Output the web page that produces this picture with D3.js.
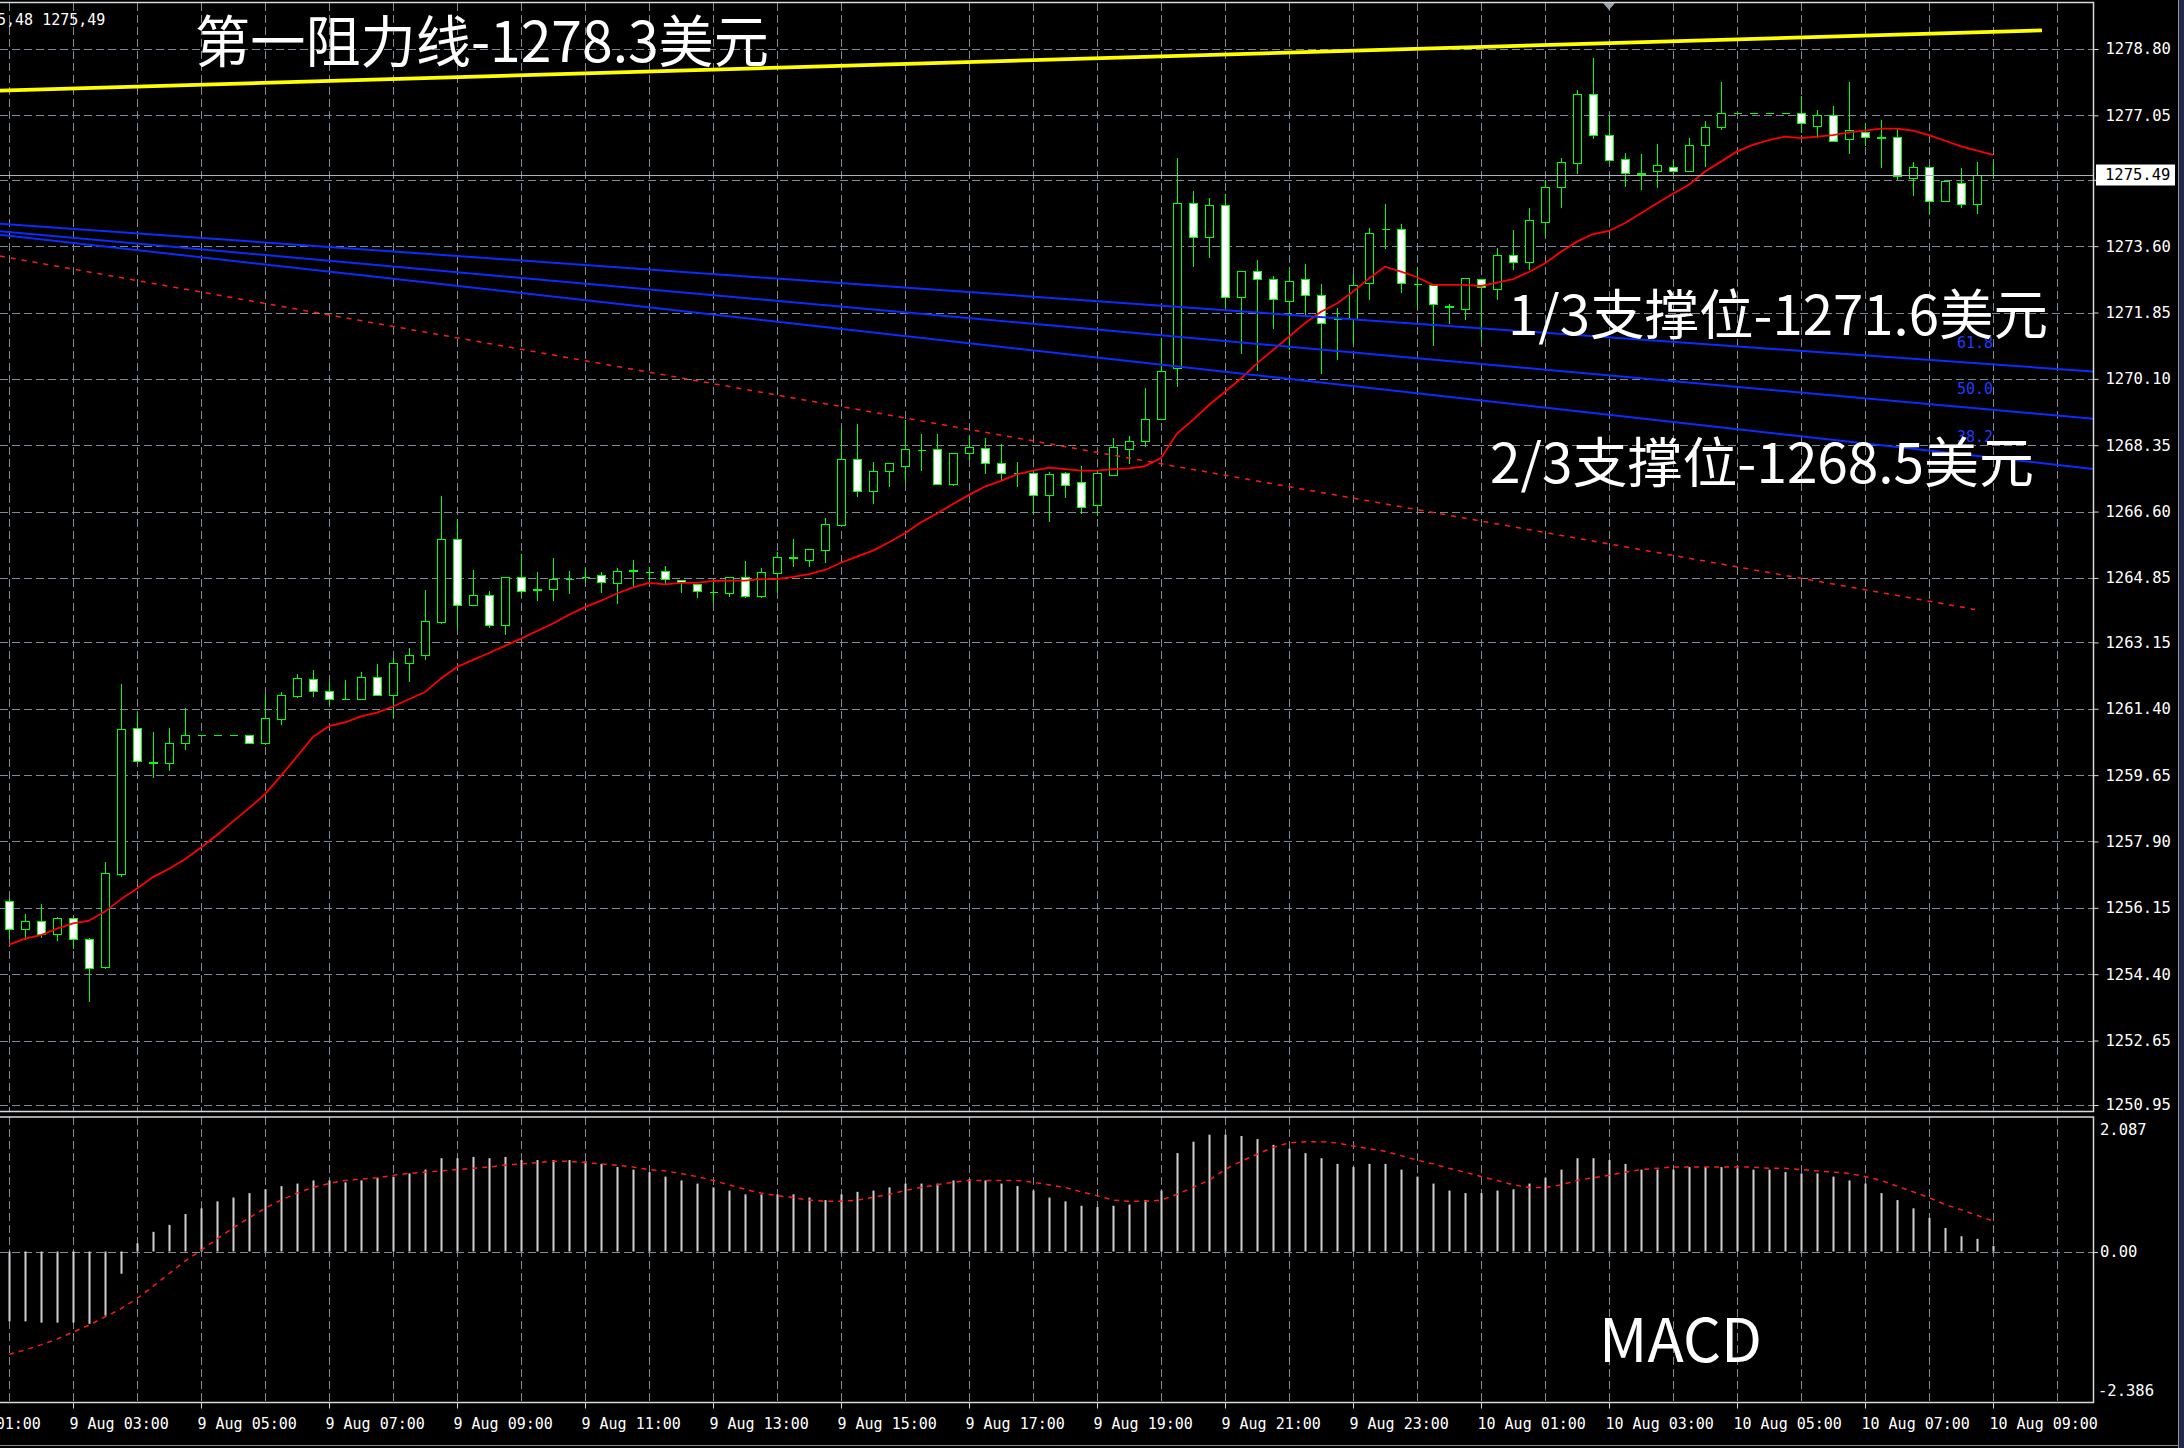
<!DOCTYPE html>
<html><head><meta charset="utf-8">
<script src="https://cdn.jsdelivr.net/npm/d3@7"></script>
<style>html,body{margin:0;padding:0;background:#000;overflow:hidden}</style>
</head><body>
<svg id="c" width="2184" height="1448"></svg>
<script>
// ---------------- DATA ----------------
const firstCandle = "2018-08-09 02:00"; // M15 bars
const opens = [1256.33,1255.59,1255.81,1255.47,1255.87,1255.34,1254.59,1257.03,1260.88,1260.00,1259.96,1260.50,1260.71,1260.71,1260.71,1260.70,1260.49,1261.13,1261.74,1262.19,1261.87,1261.67,1261.67,1262.24,1261.76,1262.61,1262.82,1263.70,1265.89,1264.14,1264.40,1263.61,1264.88,1264.52,1264.55,1264.82,1264.88,1264.93,1264.71,1265.04,1265.02,1265.03,1264.80,1264.68,1264.49,1264.44,1264.88,1264.37,1264.97,1265.38,1265.32,1265.60,1266.24,1267.99,1267.14,1267.67,1267.81,1268.22,1268.25,1267.34,1268.14,1268.29,1267.89,1267.61,1267.63,1267.04,1267.63,1267.37,1266.77,1267.57,1268.24,1268.46,1269.03,1270.38,1274.75,1273.85,1274.69,1272.27,1272.95,1272.73,1272.15,1272.73,1272.31,1271.67,1271.67,1272.64,1274.04,1274.05,1272.60,1272.58,1272.00,1271.94,1272.73,1272.47,1273.37,1273.17,1274.25,1275.17,1275.79,1277.61,1276.53,1275.90,1275.51,1275.59,1275.70,1275.59,1276.27,1276.74,1277.12,1277.12,1277.12,1277.12,1277.12,1276.78,1277.06,1276.43,1276.62,1276.46,1276.49,1275.39,1275.70,1274.79,1275.26,1274.71,1275.48];
const highs = [1256.39,1255.98,1256.24,1255.92,1255.91,1255.36,1257.35,1262.05,1261.29,1260.78,1260.90,1261.41,1260.71,1260.71,1260.71,1260.70,1261.79,1261.84,1262.31,1262.41,1262.10,1262.17,1262.37,1262.57,1262.73,1263.01,1264.52,1267.02,1266.41,1265.06,1264.51,1264.88,1265.48,1265.00,1265.37,1265.04,1265.10,1265.00,1265.10,1265.32,1265.15,1265.16,1264.80,1264.68,1264.75,1264.88,1265.31,1265.10,1265.53,1265.89,1265.62,1266.42,1268.80,1268.90,1267.90,1267.89,1269.02,1268.64,1268.64,1268.15,1268.60,1268.53,1268.37,1267.91,1267.70,1267.65,1267.65,1267.79,1267.66,1268.53,1268.59,1269.85,1271.17,1275.92,1275.06,1274.86,1274.97,1272.95,1273.24,1272.81,1273.06,1273.13,1272.60,1271.96,1272.86,1274.07,1274.71,1274.18,1273.06,1272.58,1272.07,1272.75,1272.73,1273.54,1274.03,1274.60,1275.35,1275.92,1277.72,1278.56,1277.02,1276.07,1276.02,1276.29,1275.88,1276.45,1276.89,1277.92,1277.12,1277.12,1277.12,1277.12,1277.56,1277.19,1277.30,1277.94,1276.84,1276.93,1276.68,1275.81,1275.70,1275.32,1275.66,1275.81,1275.83];
const lows = [1255.36,1255.34,1255.39,1255.31,1255.10,1253.69,1254.57,1256.99,1260.00,1259.60,1259.79,1260.33,1260.71,1260.71,1260.71,1260.50,1260.47,1261.01,1261.70,1261.74,1261.53,1261.67,1261.65,1261.77,1261.18,1262.12,1262.71,1263.65,1263.53,1264.14,1263.56,1263.37,1264.37,1264.27,1264.27,1264.44,1264.71,1264.49,1264.18,1264.65,1264.75,1264.71,1264.49,1264.34,1264.22,1264.38,1264.34,1264.34,1264.48,1265.17,1265.17,1265.27,1266.24,1267.02,1266.82,1267.28,1267.39,1267.71,1267.34,1267.29,1268.00,1267.61,1267.43,1267.28,1266.56,1266.34,1266.98,1266.55,1266.51,1267.57,1267.89,1268.33,1269.03,1269.92,1273.09,1273.31,1272.00,1270.77,1270.33,1271.45,1270.89,1271.79,1270.25,1270.62,1271.04,1272.20,1273.54,1272.40,1272.00,1271.00,1271.57,1271.67,1271.13,1272.20,1272.99,1273.00,1273.90,1274.62,1275.52,1276.46,1275.86,1275.20,1275.10,1275.15,1275.52,1275.59,1275.72,1276.68,1277.12,1277.12,1277.12,1277.12,1276.62,1276.49,1276.38,1276.05,1276.27,1275.68,1275.37,1274.96,1274.47,1274.79,1274.63,1274.47,1275.42];
const closes = [1255.60,1255.81,1255.45,1255.87,1255.34,1254.55,1257.07,1260.87,1260.02,1259.97,1260.50,1260.71,1260.71,1260.71,1260.71,1260.50,1261.15,1261.77,1262.21,1261.86,1261.67,1261.67,1262.24,1261.77,1262.61,1262.82,1263.71,1265.89,1264.14,1264.40,1263.61,1264.88,1264.51,1264.55,1264.82,1264.83,1264.88,1264.73,1265.04,1265.05,1265.02,1264.82,1264.74,1264.51,1264.49,1264.88,1264.38,1265.00,1265.41,1265.39,1265.62,1266.26,1268.00,1267.14,1267.68,1267.89,1268.25,1268.23,1267.34,1268.15,1268.31,1267.87,1267.61,1267.62,1267.04,1267.58,1267.30,1266.73,1267.63,1268.31,1268.46,1269.03,1270.32,1274.75,1273.85,1274.69,1272.27,1272.95,1272.73,1272.21,1272.69,1272.31,1271.58,1271.68,1272.58,1273.94,1274.05,1272.64,1272.61,1272.07,1272.01,1272.75,1272.53,1273.37,1273.17,1274.28,1275.17,1275.81,1277.61,1276.52,1275.86,1275.52,1275.52,1275.74,1275.59,1276.27,1276.75,1277.12,1277.12,1277.12,1277.12,1277.12,1276.86,1277.06,1276.38,1276.67,1276.49,1276.47,1275.44,1275.70,1274.79,1275.32,1274.71,1275.48,1275.49];
const maValues = [1255.18,1255.34,1255.43,1255.60,1255.74,1255.81,1256.05,1256.38,1256.66,1256.96,1257.18,1257.43,1257.74,1258.07,1258.43,1258.78,1259.15,1259.63,1260.14,1260.66,1260.94,1261.04,1261.20,1261.30,1261.46,1261.65,1261.84,1262.20,1262.50,1262.69,1262.87,1263.06,1263.25,1263.45,1263.65,1263.88,1264.08,1264.25,1264.44,1264.60,1264.72,1264.68,1264.72,1264.72,1264.77,1264.78,1264.78,1264.82,1264.82,1264.88,1264.95,1265.06,1265.25,1265.41,1265.57,1265.79,1266.03,1266.32,1266.55,1266.80,1267.04,1267.26,1267.41,1267.58,1267.68,1267.76,1267.72,1267.68,1267.68,1267.72,1267.74,1267.80,1268.01,1268.66,1269.02,1269.41,1269.76,1270.11,1270.51,1270.86,1271.21,1271.57,1271.87,1272.09,1272.40,1272.75,1273.06,1272.93,1272.78,1272.58,1272.58,1272.58,1272.55,1272.64,1272.73,1272.92,1273.15,1273.45,1273.72,1273.92,1274.00,1274.21,1274.47,1274.73,1274.98,1275.22,1275.57,1275.83,1276.10,1276.27,1276.40,1276.49,1276.45,1276.49,1276.53,1276.60,1276.65,1276.70,1276.70,1276.65,1276.53,1276.38,1276.23,1276.12,1276.01];
const macdHist = [-1.10,-1.10,-1.12,-1.12,-1.12,-1.14,-1.01,-0.35,0.13,0.31,0.42,0.59,0.68,0.79,0.85,0.92,0.98,1.03,1.07,1.12,1.12,1.09,1.12,1.16,1.18,1.23,1.29,1.47,1.47,1.49,1.47,1.49,1.44,1.44,1.44,1.44,1.42,1.38,1.33,1.29,1.25,1.18,1.12,1.07,1.01,0.96,0.90,0.90,0.90,0.90,0.85,0.81,0.90,0.94,0.96,1.01,1.07,1.07,1.07,1.12,1.14,1.12,1.07,1.03,0.96,0.85,0.79,0.72,0.70,0.72,0.74,0.81,0.96,1.55,1.73,1.84,1.84,1.82,1.77,1.68,1.62,1.55,1.47,1.38,1.33,1.38,1.38,1.29,1.18,1.07,0.96,0.92,0.92,0.96,0.98,1.07,1.16,1.29,1.47,1.47,1.44,1.38,1.29,1.29,1.29,1.33,1.33,1.33,1.31,1.29,1.29,1.25,1.23,1.23,1.18,1.12,1.07,0.92,0.81,0.68,0.53,0.37,0.24,0.20,0.09];
const macdSignal = [-1.62,-1.55,-1.47,-1.38,-1.27,-1.16,-1.03,-0.90,-0.74,-0.55,-0.35,-0.15,0.02,0.20,0.37,0.53,0.68,0.81,0.92,1.01,1.07,1.12,1.14,1.16,1.20,1.23,1.25,1.27,1.29,1.31,1.33,1.36,1.38,1.40,1.42,1.42,1.40,1.38,1.36,1.33,1.29,1.27,1.23,1.18,1.12,1.05,0.98,0.92,0.88,0.85,0.81,0.79,0.79,0.81,0.85,0.90,0.96,1.01,1.05,1.09,1.12,1.12,1.12,1.12,1.09,1.05,1.01,0.94,0.88,0.81,0.79,0.79,0.81,0.90,1.01,1.12,1.29,1.42,1.53,1.64,1.71,1.73,1.73,1.71,1.66,1.62,1.58,1.51,1.44,1.38,1.31,1.25,1.18,1.12,1.05,1.01,1.01,1.05,1.12,1.16,1.20,1.25,1.29,1.31,1.33,1.33,1.33,1.33,1.33,1.33,1.31,1.31,1.29,1.27,1.25,1.23,1.18,1.12,1.03,0.94,0.85,0.74,0.66,0.57,0.48];
const priceTicks = [1250.95,1252.65,1254.40,1256.15,1257.90,1259.65,1261.40,1263.15,1264.85,1266.60,1268.35,1270.10,1271.85,1273.60,1275.35,1277.05,1278.80];
const macdTicks = ["2.087","0.00","-2.386"];
const timeLabels = ["9 Aug 01:00","9 Aug 03:00","9 Aug 05:00","9 Aug 07:00","9 Aug 09:00","9 Aug 11:00","9 Aug 13:00","9 Aug 15:00","9 Aug 17:00","9 Aug 19:00","9 Aug 21:00","9 Aug 23:00","10 Aug 01:00","10 Aug 03:00","10 Aug 05:00","10 Aug 07:00","10 Aug 09:00"];
const currentPrice = 1275.49;
const headerText = "5,48 1275,49";
// objects: [barIndex, price] pairs
const resistanceLine = [[-0.5625,1277.70],[127.06,1279.29]];
const fanLabels = ["61.8","50.0","38.2"];
const fanLines = [[[61.94,1272.33],[111.94,1270.84]],[[61.94,1271.63],[111.94,1269.74]],[[61.94,1270.95],[111.94,1268.59]]];
const trendLine = [[-0.5625,1273.34],[122.875,1264.02]];
const noteTexts = ["第一阻力线-1278.3美元","1/3支撑位-1271.6美元","2/3支撑位-1268.5美元","MACD"];

// ---------------- LAYOUT ----------------
const W=2184,H=1448, R=2093, mainTop=2.5, mainBot=1111, macdTop=1117, macdBot=1402;
const svg=d3.select('#c');
svg.append('rect').attr('width',W).attr('height',H).attr('fill','#000');
const t0=d3.timeParse("%Y-%m-%d %H:%M")(firstCandle);
const barTime=i=>new Date(+t0+i*15*60000);
const lastT=barTime(closes.length-1);
const x=d3.scaleTime().domain([t0,lastT]).range([9,1993]);
const y=d3.scaleLinear().domain([1250.95,1278.80]).range([1105,49]);
const ym=d3.scaleLinear().domain([-2.386,2.087]).range([1403,1119]);
const GRID='#7d8b99', FONT='DejaVu Sans Mono';

const defs=svg.append('defs');
defs.append('clipPath').attr('id','cm').append('rect').attr('x',0).attr('y',mainTop).attr('width',R).attr('height',mainBot-mainTop);
defs.append('clipPath').attr('id','cd').append('rect').attr('x',0).attr('y',macdTop).attr('width',R).attr('height',macdBot-macdTop);

// grid
const grid=svg.append('g').attr('stroke',GRID).attr('stroke-width',1).attr('stroke-dasharray','8,4').attr('shape-rendering','crispEdges');
priceTicks.forEach(p=>{const yy=Math.round(y(p))+0.5;grid.append('line').attr('x1',0).attr('x2',R).attr('y1',yy).attr('y2',yy);});
const hours=d3.timeHour.range(d3.timeHour.offset(t0,-1),d3.timeHour.offset(lastT,2));
hours.forEach(h=>{const xx=Math.round(x(h))+0.5; if(xx<0||xx>R)return;
  grid.append('line').attr('x1',xx).attr('x2',xx).attr('y1',mainTop).attr('y2',mainBot);
  grid.append('line').attr('x1',xx).attr('x2',xx).attr('y1',macdTop).attr('y2',macdBot);});
grid.append('line').attr('x1',0).attr('x2',R).attr('y1',Math.round(ym(0))+0.5).attr('y2',Math.round(ym(0))+0.5);

// candles
const bars=d3.range(closes.length).map(i=>({i,t:barTime(i),o:opens[i],h:highs[i],l:lows[i],c:closes[i]}));
const gm=svg.append('g').attr('clip-path','url(#cm)');
const gc=gm.append('g').attr('shape-rendering','crispEdges');
gc.selectAll('line').data(bars).join('line')
  .attr('x1',d=>Math.round(x(d.t))+0.5).attr('x2',d=>Math.round(x(d.t))+0.5)
  .attr('y1',d=>Math.round(y(d.h))).attr('y2',d=>Math.round(y(d.l))+1)
  .attr('stroke','#00ff00').attr('stroke-width',1);
gc.selectAll('path').data(bars).join('path')
  .attr('d',d=>{const cx=Math.round(x(d.t));const yt=Math.round(y(Math.max(d.o,d.c)))+0.5;const yb=Math.round(y(Math.min(d.o,d.c)))+0.5;
     return `M${cx-3.5},${yt}H${cx+4.5}V${yb}H${cx-3.5}Z`;})
  .attr('fill',d=>d.c<d.o?'#ffffff':'#000000').attr('stroke','#00ff00').attr('stroke-width',1);

// moving average
gm.append('path').datum(maValues).attr('fill','none').attr('stroke','#ff0000').attr('stroke-width',1.8)
  .attr('d',d3.line().x((d,i)=>x(barTime(i))).y(d=>y(d)));

// objects
const pt=p=>[x(barTime(p[0])),y(p[1])];
function ray(pts,xEnd){const a=pt(pts[0]),b=pt(pts[1]);const k=(b[1]-a[1])/(b[0]-a[0]);return [[0,a[1]+k*(0-a[0])],[xEnd,a[1]+k*(xEnd-a[0])]];}
gm.append('path').attr('d',d3.line()(trendLine.map(pt))).attr('stroke','#ff1a1a').attr('stroke-width',1.5).attr('stroke-dasharray','5,6').attr('fill','none');
fanLines.forEach((fl,k)=>{
  gm.append('path').attr('d',d3.line()(ray(fl,R))).attr('stroke','#0a2cff').attr('stroke-width',2).attr('fill','none');
  const r=ray(fl,R);const xe=x(lastT);const ye=r[0][1]+(r[1][1]-r[0][1])*(xe/R);
  gm.append('text').attr('x',xe).attr('y',ye-16).attr('text-anchor','end').attr('fill','#1f3cff')
    .attr('font-family',FONT).attr('font-size',15).text(fanLabels[k]);
});
gm.append('path').attr('d',d3.line()(resistanceLine.map(pt))).attr('stroke','#ffff00').attr('stroke-width',3.8).attr('fill','none');
// bid line
const yb=Math.round(y(currentPrice))+0.5;
gm.append('line').attr('x1',0).attr('x2',R).attr('y1',yb).attr('y2',yb).attr('stroke','#aab2ba').attr('stroke-width',1.2);

// MACD
const gd=svg.append('g').attr('clip-path','url(#cd)');
gd.selectAll('line').data(macdHist).join('line')
  .attr('x1',(d,i)=>Math.round(x(barTime(i)))+0.5).attr('x2',(d,i)=>Math.round(x(barTime(i)))+0.5)
  .attr('y1',ym(0)).attr('y2',d=>ym(d)).attr('stroke','#d0d0d0').attr('stroke-width',2);
gd.append('path').datum(macdSignal).attr('fill','none').attr('stroke','#ff1a1a').attr('stroke-width',1.5).attr('stroke-dasharray','5,5')
  .attr('d',d3.line().x((d,i)=>x(barTime(i))).y(d=>ym(d)));

// borders
const B='#d8d8d8';
svg.append('path').attr('d',`M-1,${mainTop}H${R+0.5}V${mainBot+0.5}H-1`).attr('stroke',B).attr('fill','none').attr('stroke-width',1.5);
svg.append('path').attr('d',`M-1,${macdTop}H${R+0.5}V${macdBot+0.5}H-1`).attr('stroke',B).attr('fill','none').attr('stroke-width',1.5);

// price axis
const ax=svg.append('g').attr('transform',`translate(${R+0.5},0)`).call(d3.axisRight(y).tickValues(priceTicks).tickSize(5).tickPadding(7).tickFormat(d3.format('.2f')));
ax.select('.domain').remove();
ax.selectAll('line').attr('stroke',B);
ax.selectAll('text').attr('fill','#ffffff').attr('font-family',FONT).attr('font-size',15.5);
// current price tag
svg.append('rect').attr('x',2096).attr('y',y(currentPrice)-10).attr('width',79).attr('height',21).attr('fill','#ffffff');
svg.append('text').attr('x',2105).attr('y',y(currentPrice)).attr('dy','0.35em').attr('fill','#000').attr('font-family',FONT).attr('font-size',15.5).text(currentPrice.toFixed(2));

// macd axis
const macdY=[ym(2.087)+11,ym(0),ym(-2.386)-12];
macdTicks.forEach((t,k)=>{svg.append('text').attr('x',t.startsWith('-')?2098:2100).attr('y',macdY[k]).attr('dy','0.35em')
  .attr('fill','#ffffff').attr('font-family',FONT).attr('font-size',15.5).text(t);});
svg.append('line').attr('x1',R).attr('x2',R+5).attr('y1',Math.round(ym(0))+0.5).attr('y2',Math.round(ym(0))+0.5).attr('stroke',B);

// time axis
const tParse=s=>{const [d,m,hm]=s.split(' ');const [hh,mm]=hm.split(':');return new Date(2018,m==='Aug'?7:0,+d,+hh,+mm);};
const tx=svg.append('g').attr('transform',`translate(0,${macdBot+0.5})`)
  .call(d3.axisBottom(x).tickValues(timeLabels.map(tParse)).tickSize(6).tickFormat((d,i)=>timeLabels[i]));
tx.select('.domain').remove();
tx.selectAll('line').attr('stroke',B);
tx.selectAll('text').attr('fill','#ffffff').attr('font-family',FONT).attr('font-size',15).attr('text-anchor','start').attr('x',-4).attr('y',16);

// header
svg.append('text').attr('x',-3).attr('y',25).attr('fill','#ffffff').attr('font-family',FONT).attr('font-size',15).text(headerText);
// shift marker
svg.append('path').attr('d','M1603,3L1615,3L1609,10Z').attr('fill','#9aa4ae');

// annotations
const notePos=[[195,62,574,56],[1508,335,540,54],[1490,483,544,54],[1599,1362,163,60]];
noteTexts.forEach((t,k)=>{const p=notePos[k];
  svg.append('text').attr('x',p[0]).attr('y',p[1]).attr('fill','#ffffff').attr('font-family','"Noto Sans CJK SC","Noto Sans",sans-serif')
   .attr('font-size',p[3]).attr('textLength',p[2]).attr('lengthAdjust','spacingAndGlyphs').text(t);});

// window frame edges
svg.append('line').attr('x1',2178.5).attr('x2',2178.5).attr('y1',0).attr('y2',H).attr('stroke','#9a9a9a');
svg.append('rect').attr('x',2179).attr('y',0).attr('width',5).attr('height',H).attr('fill','#1c2a48');
svg.append('line').attr('x1',0).attr('x2',2179).attr('y1',1445.5).attr('y2',1445.5).attr('stroke','#8a8a8a');
</script>
</body></html>
